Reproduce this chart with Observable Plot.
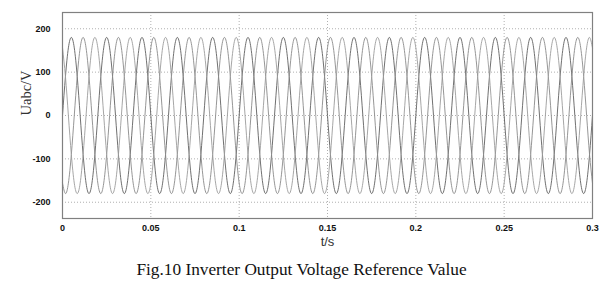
<!DOCTYPE html>
<html>
<head>
<meta charset="utf-8">
<script src="https://cdn.jsdelivr.net/npm/d3@7"></script>
<script src="https://cdn.jsdelivr.net/npm/@observablehq/plot@0.6"></script>
<style>
  html, body { margin: 0; padding: 0; background: #fff; }
  #caption { width: 603px; text-align: center; font-family: "Liberation Serif", "Times New Roman", serif; font-size: 17.3px; line-height: 20px; margin-top: 8px; color: #111; }
</style>
</head>
<body>
<div id="chart"></div>
<div id="caption">Fig.10 Inverter Output Voltage Reference Value</div>
<script>
const cycleValues = [0, 90, 156, 180, 156, 90, 0, -90, -156, -180, -156, -90];
const period = 0.02;              // s (50 Hz, 15 cycles over 0.3 s)
const cycles = 15;
const phases = ["Ua", "Ub", "Uc"];
const phaseOffsets = [0, 8, 4];   // sample offsets: 0°, -120°, +120°
const phaseColors = ["#606060", "#8a8a8a", "#9c9c9c"];
const xTicks = [0, 0.05, 0.1, 0.15, 0.2, 0.25, 0.3];
const xTickLabels = ["0", "0.05", "0.1", "0.15", "0.2", "0.25", "0.3"];
const yTicks = [-200, -100, 0, 100, 200];
const yTickLabels = ["-200", "-100", "0", "100", "200"];

const n = cycleValues.length;
const dt = period / n;
const rows = [];
phases.forEach((p, i) => {
  for (let k = 0; k <= cycles * n; k++) {
    rows.push({phase: p, t: k * dt, v: cycleValues[(k + phaseOffsets[i]) % n]});
  }
});

const chart = Plot.plot({
  width: 603,
  height: 252,
  marginLeft: 62,
  marginRight: 11,
  marginTop: 12,
  marginBottom: 34,
  style: {fontFamily: "'Liberation Sans', Arial, sans-serif", background: "#fff"},
  x: {domain: [0, 0.3]},
  y: {domain: [-237.5, 237.5]},
  color: {domain: phases, range: phaseColors},
  marks: [
    Plot.ruleX(xTicks, {stroke: "#b0b0b0", strokeDasharray: "1,2", strokeWidth: 1}),
    Plot.ruleY(yTicks, {stroke: "#b0b0b0", strokeDasharray: "1,2", strokeWidth: 1}),
    Plot.line(rows, {x: "t", y: "v", z: "phase", stroke: "phase", curve: "natural", strokeWidth: 0.9}),
    Plot.frame({stroke: "#808080", strokeWidth: 1.2}),
    Plot.axisX(xTicks, {tickSize: 0, tickPadding: 6, fontSize: 9, fontWeight: "bold", fill: "#111",
      tickFormat: (d, i) => xTickLabels[i], label: null}),
    Plot.axisY(yTicks, {tickSize: 0, tickPadding: 12, fontSize: 9, fontWeight: "bold", fill: "#111",
      tickFormat: (d, i) => yTickLabels[i], label: null}),
    Plot.text(["t/s"], {frameAnchor: "bottom", dy: 27, fontSize: 13, fill: "#333",
      fontFamily: "'Liberation Sans', Arial, sans-serif", fontWeight: 300}),
    Plot.text(["Uabc/V"], {frameAnchor: "left", dx: -36, rotate: -90, fontSize: 14.5, fill: "#333",
      fontFamily: "'Liberation Serif', 'Times New Roman', serif"})
  ]
});
document.getElementById("chart").appendChild(chart);
</script>
</body>
</html>
